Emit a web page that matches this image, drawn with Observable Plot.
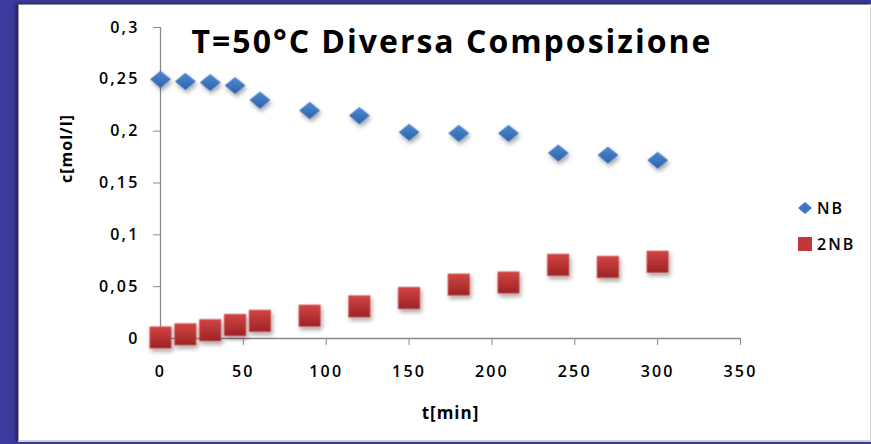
<!DOCTYPE html>
<html>
<head>
<meta charset="utf-8">
<script src="https://cdn.jsdelivr.net/npm/d3@7"></script>
<script src="https://cdn.jsdelivr.net/npm/@observablehq/plot@0.6"></script>
<style>
  html, body { margin: 0; padding: 0; }
  body { width: 871px; height: 444px; background: #3d3a9e; position: relative; overflow: hidden; }
  #panel { position: absolute; left: 18px; top: 4px; width: 851px; height: 435px; background: #fff;
           border-top: 1px solid #8c8c8c; border-left: 1px solid #9a9a9a; border-right: 1px solid #d8d8d8; border-bottom: 2px solid #cfcfcf;
           box-shadow: -3px -1px 3px rgba(0,0,0,0.35); }
  #chart { position: absolute; left: 0; top: 0; }
  #title { position: absolute; left: 2px; top: 21px; width: 900px; text-align: center; font-family: "Open Sans", sans-serif; font-weight: 700; font-size: 32px; line-height: 40px; color: #000; letter-spacing: 2px; }
  #legend { position: absolute; left: 797px; top: 196px; font-family: "Open Sans", sans-serif; font-weight: 600; font-size: 16px; color: #000; }
  #legend .row { display: flex; align-items: center; height: 24px; margin-bottom: 12px; letter-spacing: 2px; }
  #legend svg { margin-right: 4px; }
</style>
</head>
<body>
<div id="panel"></div>
<div id="chart"></div>
<div id="title"></div>
<div id="legend"></div>
<script>
const titleText = "T=50°C Diversa Composizione";
const xLabel = "t[min]";
const yLabel = "c[mol/l]";
const seriesNames = ["NB", "2NB"];
const times = [0, 15, 30, 45, 60, 90, 120, 150, 180, 210, 240, 270, 300];
const nbValues = [0.250, 0.248, 0.247, 0.244, 0.230, 0.220, 0.215, 0.199, 0.198, 0.198, 0.179, 0.177, 0.172];
const nb2Values = [0.001, 0.004, 0.008, 0.013, 0.017, 0.022, 0.031, 0.039, 0.052, 0.054, 0.071, 0.069, 0.074];
const xTicks = [0, 50, 100, 150, 200, 250, 300, 350];
const yTicks = [0, 0.05, 0.1, 0.15, 0.2, 0.25, 0.3];

const nbData = times.map((t, i) => ({t, c: nbValues[i], s: seriesNames[0]}));
const nb2Data = times.map((t, i) => ({t, c: nb2Values[i], s: seriesNames[1]}));

// wide diamond symbol
const wideDiamond = {
  draw(context, size) {
    const w = Math.sqrt(size) * 0.62, h = w * 0.82;
    context.moveTo(0, -h); context.lineTo(w, 0); context.lineTo(0, h); context.lineTo(-w, 0); context.closePath();
  }
};
const fmt = v => d3.format("~g")(v).replace(".", ",");

const plot = Plot.plot({
  width: 871,
  height: 444,
  marginLeft: 160,
  marginRight: 131,
  marginTop: 27,
  marginBottom: 106,
  style: {background: "transparent", overflow: "visible"},
  x: {domain: [0, 350]},
  y: {domain: [0, 0.3]},
  marks: [
    Plot.axisY({ticks: yTicks, tickFormat: fmt, tickSize: 7, tickPadding: 14, stroke: "#8a8a8a", fill: "#000",
      fontSize: 16, fontFamily: "Open Sans", fontWeight: 600, label: null}),
    Plot.axisX({ticks: xTicks, tickFormat: fmt, tickSize: 7, tickPadding: 20, stroke: "#8a8a8a", fill: "#000",
      fontSize: 16, fontFamily: "Open Sans", fontWeight: 600, label: null}),
    Plot.ruleX([0], {y1: 0, y2: 0.3, stroke: "#8a8a8a", strokeWidth: 1.3}),
    Plot.ruleY([0], {x1: 0, x2: 350, stroke: "#8a8a8a", strokeWidth: 1.3}),
    Plot.text([xLabel], {frameAnchor: "bottom", dy: 80, fontSize: 17, fontWeight: "bold", fontFamily: "Open Sans", fill: "#000"}),
    Plot.text([yLabel], {frameAnchor: "left", dx: -94, rotate: -90, fontSize: 16, fontWeight: "bold", fontFamily: "Open Sans", fill: "#000"}),
    Plot.dot(nb2Data, {x: "t", y: "c", symbol: "square", r: 12.2, fill: "url(#gradR)", stroke: "#d86a6a", strokeWidth: 0.6}),
    Plot.dot(nbData, {x: "t", y: "c", symbol: wideDiamond, r: 9.5, fill: "url(#gradB)", stroke: "none"})
  ]
});

plot.insertAdjacentHTML("afterbegin", `
<defs>
  <linearGradient id="gradB" x1="0" y1="0" x2="0" y2="1">
    <stop offset="0" stop-color="#4f8ad4"/><stop offset="1" stop-color="#2d63aa"/>
  </linearGradient>
  <linearGradient id="gradR" x1="0" y1="0" x2="0" y2="1">
    <stop offset="0" stop-color="#d24544"/><stop offset="1" stop-color="#9c2426"/>
  </linearGradient>
  <filter id="shadow" x="-50%" y="-50%" width="200%" height="200%">
    <feDropShadow dx="1.5" dy="3" stdDeviation="2" flood-color="#000" flood-opacity="0.35"/>
  </filter>
</defs>`);
plot.querySelectorAll('g[aria-label="dot"]').forEach(g => g.setAttribute("filter", "url(#shadow)"));
plot.querySelectorAll('g[aria-label="x-axis tick label"] text, g[aria-label="y-axis tick label"] text').forEach(t => t.setAttribute("letter-spacing", "2.2"));
plot.querySelectorAll('g[aria-label="text"] text').forEach(t => t.setAttribute("letter-spacing", "1"));
document.getElementById("chart").appendChild(plot);
document.getElementById("title").textContent = titleText;

// legend
const legend = document.getElementById("legend");
const legendDefs = [
  {name: seriesNames[0], svg: `<svg width="16" height="14"><path d="M8 1 L15 7 L8 13 L1 7 Z" fill="#3c78c3"/></svg>`},
  {name: seriesNames[1], svg: `<svg width="16" height="14"><rect x="1" y="0" width="14" height="14" fill="#c03838"/></svg>`}
];
legendDefs.forEach(d => {
  const row = document.createElement("div");
  row.className = "row";
  row.innerHTML = d.svg + `<span>${d.name}</span>`;
  legend.appendChild(row);
});
</script>
</body>
</html>
